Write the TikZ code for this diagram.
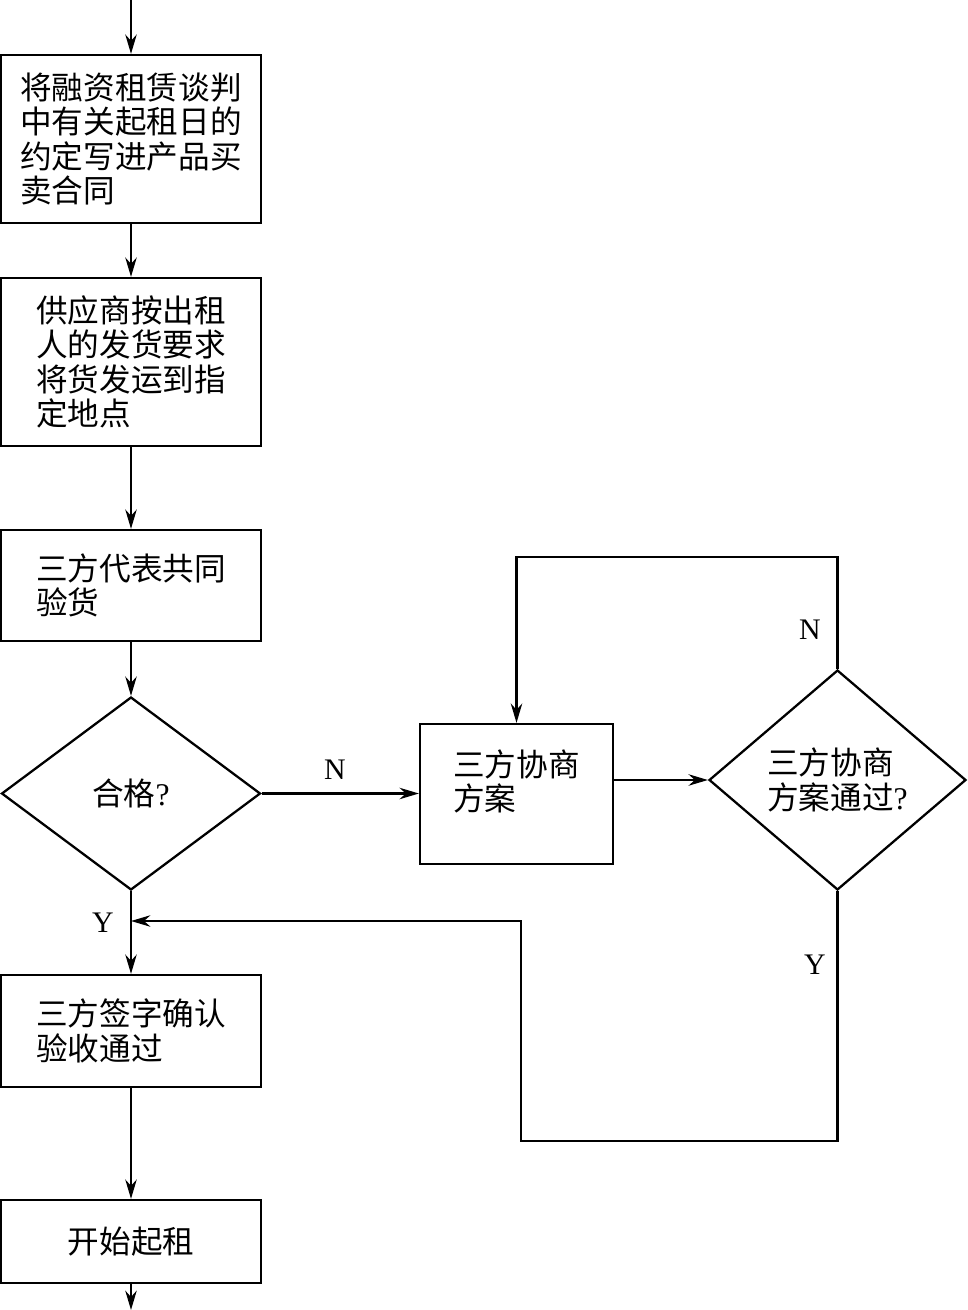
\documentclass[tikz,border=0pt]{standalone}
\usepackage{fontspec}
\setmainfont{Liberation Serif}
\newfontfamily\cjk{Noto Sans CJK SC}
\usetikzlibrary{shapes.geometric,arrows.meta}
\begin{document}
\begin{tikzpicture}[x=0.02cm,y=-0.02cm,line width=1.3pt,>={Stealth[length=11pt,width=6.5pt]},
  box/.style={draw,rectangle,minimum width=5.2cm,inner sep=0pt,align=left,font=\cjk\fontsize{18}{19.6}\selectfont},
  test/.style={draw,diamond,inner sep=0pt,align=left,font=\cjk\fontsize{18}{19.6}\selectfont},
  yn/.style={font=\fontsize{17}{20}\selectfont}]
\useasboundingbox (0,0) rectangle (967,1310);

\node[box,minimum height=3.36cm] (tanpan) at (131,139) {将融资租赁谈判\\中有关起租日的\\约定写进产品买\\卖合同};
\node[box,minimum height=3.36cm] (fahuo) at (131,362) {供应商按出租\\人的发货要求\\将货发运到指\\定地点};
\node[box,minimum height=2.22cm] (yanhuo) at (131,585.5) {三方代表共同\\验货};
\node[test,minimum width=5.18cm,minimum height=3.86cm] (hege) at (131,793.5) {合格{\rmfamily ?}};
\node[box,minimum width=3.86cm,minimum height=2.8cm,text depth=16pt] (xieshang) at (516.5,794) {三方协商\\方案};
\node[test,minimum width=5.14cm,minimum height=4.4cm] (tongguo) at (837.5,780) {三方协商\\方案通过{\rmfamily ?}};
\node[box,minimum height=2.24cm] (qianzi) at (131,1031) {三方签字确认\\验收通过};
\node[box,minimum height=1.66cm] (qizu) at (131,1241.5) {开始起租};

\coordinate (in) at (131,0);
\coordinate (out) at (131,1310);
\coordinate (nturn) at (837.5,557);
\coordinate (ybot) at (837.5,1141);
\coordinate (yup) at (521,921);

\draw[->] (in) -- (tanpan);
\draw[->] (tanpan) -- (fahuo);
\draw[->] (fahuo) -- (yanhuo);
\draw[->] (yanhuo) -- (hege);
\draw[->] (hege) -- (qianzi);
\draw[->] (qianzi) -- (qizu);
\draw[->] (qizu) -- (out);

\draw[->] (hege.east) -- (xieshang.west |- hege.east);
\draw[->] (xieshang.east |- tongguo.west) -- (tongguo.west);
\draw[->] (tongguo.north) -- (nturn) -| (xieshang.north);
\draw[->] (tongguo.south) -- (ybot) -| (yup) -- (yup -| hege.south);

\node[yn] (n1) at (335,770) {N};
\node[yn] (n2) at (810,630) {N};
\node[yn] (y1) at (103,923) {Y};
\node[yn] (y2) at (815,965) {Y};

\end{tikzpicture}
\end{document}
